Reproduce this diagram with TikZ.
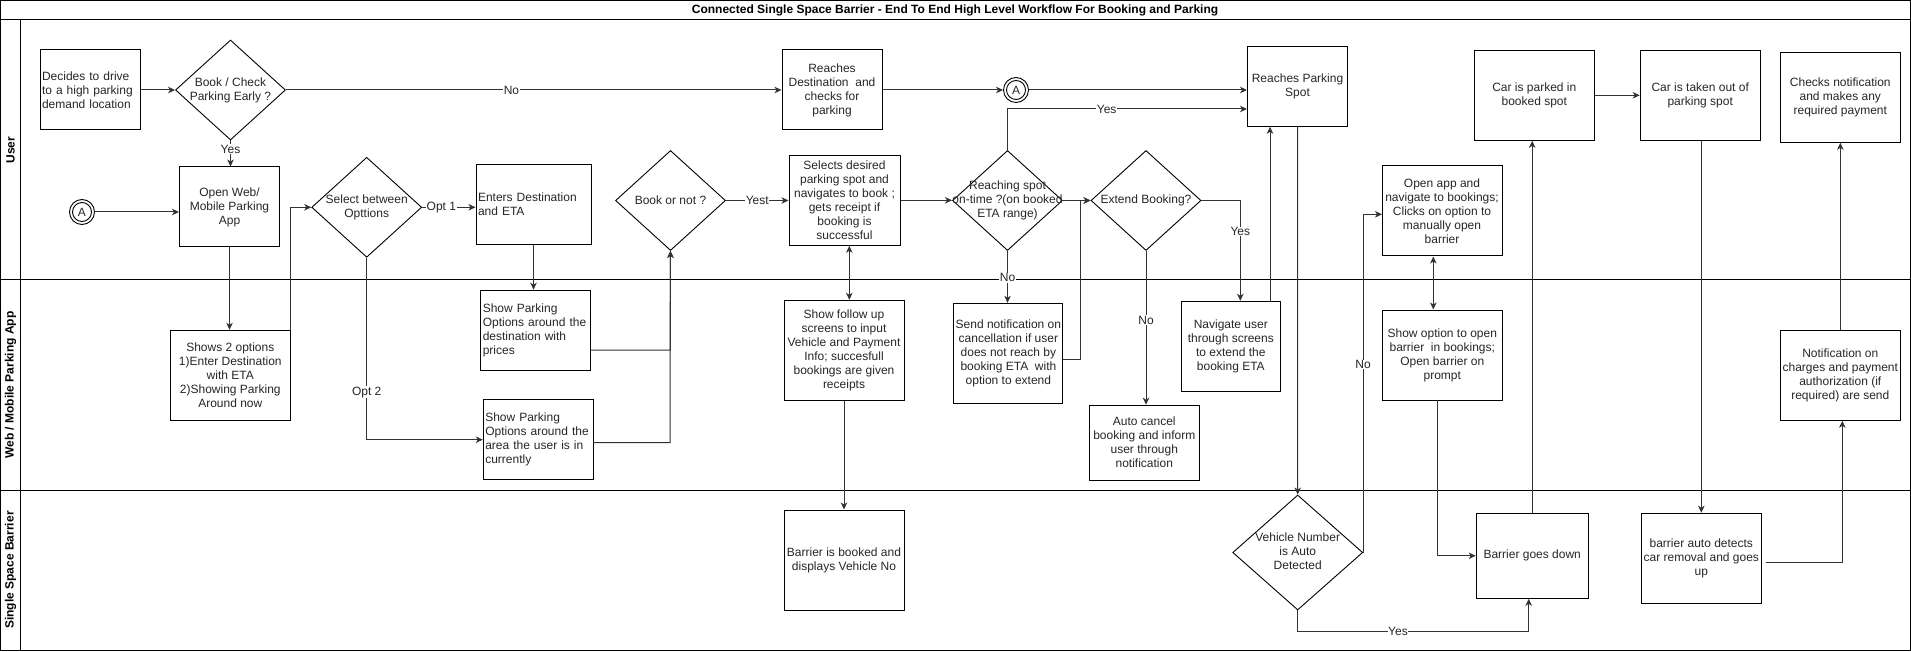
\documentclass[tikz,border=0pt]{standalone}
\usepackage{fontspec}
\setmainfont{Liberation Sans}
\usetikzlibrary{shapes.geometric,arrows.meta}
\begin{document}
\begin{tikzpicture}[x=1pt,y=-1pt,
  every node/.style={font=\fontsize{12}{14}\selectfont, text=black!85},
  box/.style={draw=black, line width=1pt, inner sep=2pt, align=center},
  lbox/.style={draw=black, line width=1pt, inner sep=2pt, align=left},
  dia/.style={draw=black, diamond, line width=0.9pt, inner sep=0pt},
  con/.style={draw=black!80, line width=1pt, -{Stealth[length=7pt,width=6.5pt,inset=2pt]}},
  bicon/.style={draw=black!80, line width=1pt, {Stealth[length=7pt,width=6.5pt,inset=2pt]}-{Stealth[length=7pt,width=6.5pt,inset=2pt]}},
  lab/.style={fill=white, inner sep=0.5pt},
  lane/.style={rotate=90, font=\bfseries\fontsize{12}{14}\selectfont, text=black},
]
\useasboundingbox (0,0) rectangle (1911,652);
% frame and lanes
\draw[line width=1pt] (0.5,0.5) rectangle (1910.5,650.5);
\draw[line width=1pt] (0.5,20) -- (1910.5,20);
\draw[line width=1pt] (20.5,20) -- (20.5,650.5);
\draw[line width=1pt] (0.5,280) -- (1910.5,280);
\draw[line width=1pt] (0.5,490) -- (1910.5,490);
\node[font=\bfseries\fontsize{12}{14}\selectfont, text=black] (title) at (955,10.5) {Connected Single Space Barrier - End To End High Level Workflow For Booking and Parking};
\node[lane] (laneUser) at (10.5,150) {User};
\node[lane] (laneWeb) at (10.5,385) {Web / Mobile Parking App};
\node[lane] (laneBar) at (10.5,570) {Single Space Barrier};

% ---- User lane ----
\node[lbox, minimum width=100pt, minimum height=80pt, text width=96pt] (decide) at (90,90) {Decides to drive\\to a high parking\\demand location};
\node[dia, minimum width=110pt, minimum height=100pt] (book) at (230.5,90) {};
\node[align=center] (bookT) at (book) {Book / Check\\Parking Early ?};
\node[box, minimum width=100pt, minimum height=80pt] (openapp) at (229.5,207) {Open Web/\\Mobile Parking\\App};
\node[circle, draw=black, line width=0.9pt, minimum size=25pt, inner sep=0pt] (a1) at (82,212) {};
\node[circle, draw=black, line width=0.9pt, minimum size=19pt, inner sep=0pt] (a1i) at (a1) {A};
\node[dia, minimum width=110pt, minimum height=100pt] (select) at (366.7,207.3) {};
\node[align=center] (selectT) at (select) {Select between\\Opttions};
\node[lbox, minimum width=115pt, minimum height=80pt, text width=111pt] (enters) at (533.5,204.3) {Enters Destination\\and ETA};
\node[dia, minimum width=110pt, minimum height=100pt] (book2) at (670.5,200.5) {};
\node[align=center] (book2T) at (book2) {Book or not ?};
\node[box, minimum width=111pt, minimum height=90pt, inner sep=1pt] (selects) at (844.5,200.3) {Selects desired\\parking spot and\\navigates to book ;\\gets receipt if\\booking is\\successful};
\node[box, minimum width=100pt, minimum height=80pt] (reachdest) at (832,90) {Reaches\\Destination~ and\\checks for\\parking};
\node[circle, draw=black, line width=0.9pt, minimum size=25pt, inner sep=0pt] (a2) at (1016,90) {};
\node[circle, draw=black, line width=0.9pt, minimum size=19pt, inner sep=0pt] (a2i) at (a2) {A};
\node[box, minimum width=100pt, minimum height=80pt] (reachspot) at (1297.5,86.3) {Reaches Parking\\Spot};
\node[dia, minimum width=110pt, minimum height=100pt] (reaching) at (1007.5,200.5) {};
\node[align=center] (reachingT) at (reaching) {Reaching spot\\on-time ?(on booked\\ETA range)};
\node[dia, minimum width=110pt, minimum height=100pt] (extend) at (1146,200.5) {};
\node[align=center] (extendT) at (extend) {Extend Booking?};
\node[box, minimum width=120pt, minimum height=90pt] (openapp2) at (1442,211) {Open app and\\navigate to bookings;\\Clicks on option to\\manually open\\barrier};
\node[box, minimum width=120pt, minimum height=90pt] (carparked) at (1534.3,95.3) {Car is parked in\\booked spot};
\node[box, minimum width=120pt, minimum height=90pt] (cartaken) at (1700.2,95.3) {Car is taken out of\\parking spot};
\node[box, minimum width=120pt, minimum height=90pt] (checks) at (1840.3,97.3) {Checks notification\\and makes any\\required payment};

% ---- Web lane ----
\node[box, minimum width=120pt, minimum height=90pt] (shows) at (230.3,375.3) {Shows 2 options\\1)Enter Destination\\with ETA\\2)Showing Parking\\Around now};
\node[lbox, minimum width=110pt, minimum height=80pt, text width=106pt] (dest) at (535.8,330.2) {Show Parking\\Options around the\\destination with\\prices};
\node[lbox, minimum width=110pt, minimum height=80pt, text width=106pt] (area) at (538.3,439.7) {Show Parking\\Options around the\\area the user is in\\currently};
\node[box, minimum width=120pt, minimum height=100pt] (follow) at (844,350.3) {Show follow up\\screens to input\\Vehicle and Payment\\Info; succesfull\\bookings are given\\receipts};
\node[box, minimum width=109pt, minimum height=100pt, inner sep=1pt] (send) at (1008.4,353.3) {Send notification on\\cancellation if user\\does not reach by\\booking ETA~ with\\option to extend};
\node[box, minimum width=110pt, minimum height=75pt] (autocancel) at (1144.3,442.7) {Auto cancel\\booking and inform\\user through\\notification};
\node[box, minimum width=99pt, minimum height=90pt] (navigate) at (1230.8,346.3) {Navigate user\\through screens\\to extend the\\booking ETA};
\node[box, minimum width=120pt, minimum height=90pt] (showopt) at (1442.3,355) {Show option to open\\barrier~ in bookings;\\Open barrier on\\prompt};
\node[box, minimum width=120pt, minimum height=90pt] (notification) at (1840.3,375.3) {Notification on\\charges and payment\\authorization (if\\required) are send};

% ---- Barrier lane ----
\node[box, minimum width=120pt, minimum height=100pt] (barrierbooked) at (844,560) {Barrier is booked and\\displays Vehicle No};
\node[dia, minimum width=130pt, minimum height=115pt] (vehicle) at (1297.7,552.5) {};
\node[align=center] (vehicleT) at (1297.7,551.7) {Vehicle Number\\is Auto\\Detected};
\node[box, minimum width=112pt, minimum height=85pt] (barrierdown) at (1532.2,555.8) {Barrier goes down};
\node[box, minimum width=120pt, minimum height=90pt] (barrierauto) at (1701.3,558.2) {barrier auto detects\\car removal and goes\\up};

% ---- helper coordinates ----
\coordinate (yesY) at (0,109);
\coordinate (junX) at (670,0);
\coordinate (sendOut) at (1063,359);
\coordinate (extX) at (1240.3,0);
\coordinate (navUp) at (1270,301.3);
\coordinate (noIn) at (1382,214.3);
\coordinate (dblA) at (1433.3,0);
\coordinate (optDown) at (1437.3,400);
\coordinate (vyes) at (1528.7,631);
\coordinate (detOut) at (1765.7,562.7);
\coordinate (notIn) at (1842.3,0);
\coordinate (follBi) at (849.3,0);
\coordinate (destOut) at (591,350);
\coordinate (areaOut) at (593,442.7);

% ---- connectors ----
\draw[con] (decide.east) -- (book.west);
\draw[con] (book.east) -- node[lab, pos=0.455]{No} (reachdest.west);
\draw[con] (book.south) -- node[lab, pos=0.33]{Yes} (book.south |- openapp.north);
\draw[con] (a1.east) -- (a1.east -| openapp.west);
\draw[con] (openapp.south) -- (openapp.south |- shows.north);
\draw[con] (shows.north east) -- (shows.north east |- select.west) -- (select.west);
\draw[con] (select.east) -- node[lab, pos=0.36]{Opt 1} (select.east -| enters.west);
\draw[con] (select.south) -- node[lab, pos=0.74]{Opt 2} (select.south |- area.west) -- (area.west);
\draw[con] (enters.south) -- (enters.south |- dest.north);
\draw[con] (destOut) -- (destOut -| junX) -- (book2.south);
\draw[con] (areaOut) -- (areaOut -| junX) -- (book2.south);
\draw[con] (book2.east) -- node[lab]{Yest} (book2.east -| selects.west);
\draw[bicon] (follBi |- selects.south) -- (follBi |- follow.north);
\draw[con] (follow.south) -- (follow.south |- barrierbooked.north);
\draw[con] (selects.east) -- (selects.east -| reaching.west);
\draw[con] (reachdest.east) -- (a2.west);
\draw[con] (a2.east) -- (a2.east -| reachspot.west);
\draw[con] (reaching.north) -- (reaching.north |- yesY) -- node[lab, pos=0.414]{Yes} (reachspot.west |- yesY);
\draw[con] (reaching.south) -- node[lab, pos=0.52]{No} (reaching.south |- send.north);
\draw[con] (reaching.east) -- (extend.west);
\draw[con] (sendOut) -- ++(17,0) |- (extend.west);
\draw[con] (extend.east) -- (extend.east -| extX) -- node[lab, pos=0.31]{Yes} (extX |- navigate.north);
\draw[con] (extend.south) -- node[lab, pos=0.45]{No} (extend.south |- autocancel.north);
\draw[con] (navUp) -- (navUp |- reachspot.south);
\draw[con] (reachspot.south) -- (vehicle.north);
\draw[con] (vehicle.east) -- node[lab, pos=0.556]{No} (vehicle.east |- noIn) -- (noIn);
\draw[bicon] (dblA |- openapp2.south) -- (dblA |- showopt.north);
\draw[con] (optDown) |- (barrierdown.west);
\draw[con] (vehicle.south) -- (vehicle.south |- vyes) -- node[lab, pos=0.434]{Yes} (vyes) -- (vyes |- barrierdown.south);
\draw[con] (barrierdown.north) -- (barrierdown.north |- carparked.south);
\draw[con] (carparked.east) -- (cartaken.west);
\draw[con] (barrierauto.north |- cartaken.south) -- (barrierauto.north);
\draw[con] (detOut) -- (detOut -| notIn) -- (notIn |- notification.south);
\draw[con] (notification.north) -- (notification.north |- checks.south);
\end{tikzpicture}
\end{document}
